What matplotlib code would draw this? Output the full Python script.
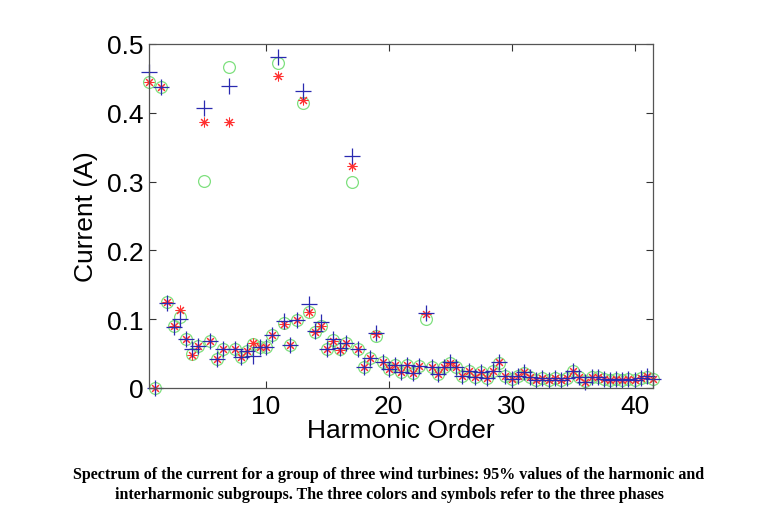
import matplotlib
matplotlib.use("Agg")
import matplotlib.pyplot as plt

# Harmonic / interharmonic subgroup orders
order = [0.5, 1, 1.5, 2, 2.5, 3, 3.5, 4, 4.5, 5, 5.5, 6, 6.5, 7, 7.5, 8, 8.5, 9, 9.5, 10,
         10.5, 11, 11.5, 12, 12.5, 13, 13.5, 14, 14.5, 15, 15.5, 16, 16.5, 17, 17.5, 18,
         18.5, 19, 19.5, 20, 20.5, 21, 21.5, 22, 22.5, 23, 23.5, 24, 24.5, 25, 25.5, 26,
         26.5, 27, 27.5, 28, 28.5, 29, 29.5, 30, 30.5, 31, 31.5, 32, 32.5, 33, 33.5, 34,
         34.5, 35, 35.5, 36, 36.5, 37, 37.5, 38, 38.5, 39, 39.5, 40, 40.5, 41, 41.5]

phase_green = [0.445, 0.000, 0.437, 0.125, 0.090, 0.103, 0.071, 0.050, 0.061, 0.301,
               0.069, 0.042, 0.056, 0.467, 0.057, 0.045, 0.054, 0.064, 0.059, 0.060,
               0.077, 0.473, 0.094, 0.062, 0.099, 0.414, 0.111, 0.082, 0.090, 0.057,
               0.070, 0.056, 0.065, 0.299, 0.057, 0.031, 0.044, 0.075, 0.038, 0.027,
               0.034, 0.023, 0.033, 0.022, 0.032, 0.100, 0.030, 0.020, 0.030, 0.037,
               0.030, 0.018, 0.025, 0.016, 0.023, 0.015, 0.024, 0.037, 0.018, 0.013,
               0.018, 0.022, 0.016, 0.012, 0.015, 0.012, 0.014, 0.012, 0.014, 0.024,
               0.016, 0.010, 0.016, 0.016, 0.013, 0.011, 0.013, 0.011, 0.013, 0.011,
               0.014, 0.016, 0.013]

phase_red = [0.445, 0.000, 0.437, 0.125, 0.090, 0.113, 0.071, 0.048, 0.061, 0.386,
             0.069, 0.042, 0.056, 0.386, 0.057, 0.045, 0.054, 0.066, 0.059, 0.060,
             0.077, 0.454, 0.093, 0.062, 0.099, 0.418, 0.111, 0.081, 0.090, 0.057,
             0.069, 0.055, 0.065, 0.322, 0.057, 0.031, 0.044, 0.079, 0.038, 0.027,
             0.034, 0.023, 0.033, 0.022, 0.032, 0.107, 0.030, 0.020, 0.030, 0.037,
             0.030, 0.018, 0.025, 0.016, 0.023, 0.015, 0.024, 0.038, 0.018, 0.013,
             0.018, 0.023, 0.016, 0.012, 0.015, 0.012, 0.014, 0.012, 0.014, 0.025,
             0.016, 0.009, 0.016, 0.016, 0.013, 0.011, 0.013, 0.011, 0.013, 0.011,
             0.014, 0.017, 0.013]

phase_blue = [0.459, 0.000, 0.437, 0.124, 0.089, 0.100, 0.071, 0.057, 0.061, 0.4065,
              0.069, 0.042, 0.056, 0.439, 0.057, 0.045, 0.054, 0.047, 0.059, 0.060,
              0.077, 0.481, 0.097, 0.062, 0.099, 0.431, 0.122, 0.083, 0.096, 0.057,
              0.071, 0.058, 0.065, 0.337, 0.057, 0.031, 0.044, 0.080, 0.038, 0.027,
              0.034, 0.023, 0.033, 0.022, 0.032, 0.109, 0.030, 0.020, 0.030, 0.038,
              0.030, 0.018, 0.025, 0.016, 0.023, 0.015, 0.024, 0.038, 0.018, 0.013,
              0.018, 0.023, 0.016, 0.012, 0.015, 0.012, 0.014, 0.012, 0.014, 0.025,
              0.016, 0.009, 0.016, 0.016, 0.013, 0.011, 0.013, 0.011, 0.013, 0.011,
              0.014, 0.017, 0.013]

xticks = [10, 20, 30, 40]
yticks = [0, 0.1, 0.2, 0.3, 0.4, 0.5]
ytick_labels = ["0", "0.1", "0.2", "0.3", "0.4", "0.5"]

caption = ("Spectrum of the current for a group of three wind turbines: 95% values of the harmonic and\n"
           "interharmonic subgroups. The three colors and symbols refer to the three phases")

fig = plt.figure(figsize=(7.61, 5.06), dpi=100)
ax = fig.add_axes([149 / 761, 1 - 389 / 506, 504 / 761, 344 / 506])

ax.plot(order, phase_green, linestyle="none", marker="o", markersize=8.5,
        markerfacecolor="none", markeredgecolor="#7ee07e", markeredgewidth=0.9, clip_on=False)
ax.plot(order, phase_red, linestyle="none", marker=(8, 2, 0), markersize=7,
        markeredgecolor="#ff3030", markeredgewidth=0.75, clip_on=False)
ax.plot(order, phase_blue, linestyle="none", marker="+", markersize=11,
        markeredgecolor="#2a2ab0", markeredgewidth=0.9, clip_on=False)

ax.set_xlim(0.5, 41.5)
ax.set_ylim(0, 0.5)
ax.set_xticks(xticks)
ax.set_yticks(yticks)
ax.set_yticklabels(ytick_labels)

font = "Liberation Sans"
for lab in ax.get_xticklabels() + ax.get_yticklabels():
    lab.set_fontfamily(font)
    lab.set_fontsize(19)
ax.tick_params(direction="in", length=5, width=0.8, top=True, right=True,
               color="#333333", pad=4)
for s in ax.spines.values():
    s.set_color("#555555")
    s.set_linewidth(0.9)

ax.set_xlabel("Harmonic Order", fontfamily=font, fontsize=19, labelpad=0)
ax.set_ylabel("Current (A)", fontfamily=font, fontsize=19, labelpad=6)

fig.text(389 / 761, 1 - 485 / 506, caption, ha="center", va="center",
         fontfamily="Liberation Serif", fontweight="bold", fontsize=11.5,
         linespacing=1.35)

fig.savefig("out.png", dpi=100)
